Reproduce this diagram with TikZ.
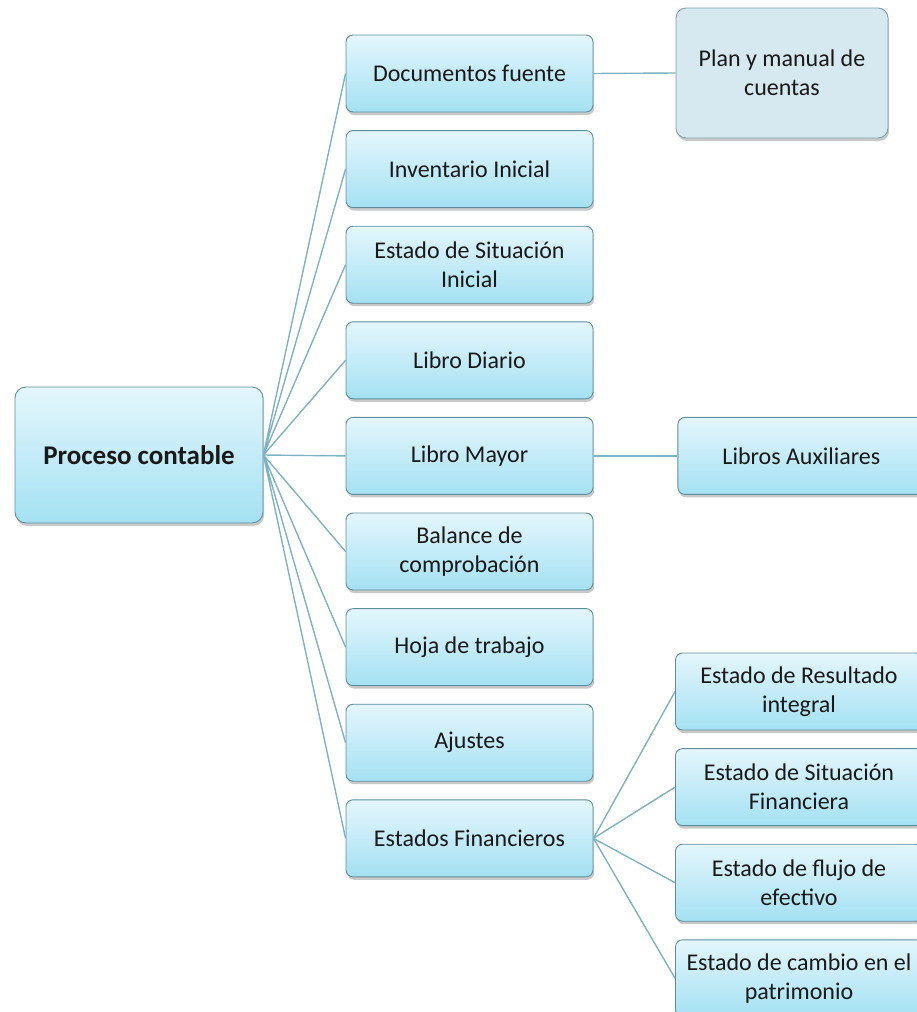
\documentclass[tikz,border=0pt]{standalone}
\usepackage{fontspec}
\setmainfont{Carlito}
\usetikzlibrary{positioning,shadows}
\definecolor{boxtop}{HTML}{E4F6FC}
\definecolor{boxbot}{HTML}{A4E1F3}
\definecolor{boxline}{HTML}{5F8E9D}
\definecolor{linkcol}{HTML}{7DB3C2}
\definecolor{planfill}{HTML}{D6E8F0}
\definecolor{planline}{HTML}{7C9FAD}
\begin{document}
\begin{tikzpicture}[x=1pt,y=-1pt,node distance=17.7pt,
				block/.style={draw=boxline,line width=0.9pt,rounded corners=7pt,top color=boxtop,bottom color=boxbot,
					minimum width=247pt,minimum height=77pt,align=center,inner sep=2pt,text=black!90,
					font=\fontsize{24}{29}\selectfont,
					drop shadow={shadow xshift=1.2pt,shadow yshift=-3pt,opacity=0.3,fill=black!70}},
				plan/.style={top color=planfill,bottom color=planfill,draw=planline,minimum width=212pt,minimum height=130pt,rounded corners=10pt},
				link/.style={draw=linkcol,line width=1.4pt}]
				\path[use as bounding box,clip] (0,0) rectangle (917,1012);
				\node[block,minimum width=248pt,minimum height=136pt,rounded corners=11pt,
					font=\bfseries\fontsize{27}{32}\selectfont] (PC) at (139,455) {Proceso contable};
				\node[block] (DF)  at (469.5,73.5)  {Documentos fuente};
				\node[block] (II)  [below=of DF]  {Inventario Inicial};
				\node[block] (ESI) [below=of II]  {Estado de Situación\\Inicial};
				\node[block] (LD)  [below=of ESI] {Libro Diario};
				\node[block] (LM)  [below=of LD]  {Libro Mayor};
				\node[block] (BC)  [below=of LM]  {Balance de\\comprobación};
				\node[block] (HT)  [below=of BC]  {Hoja de trabajo};
				\node[block] (AJ)  [below=of HT]  {Ajustes};
				\node[block] (EF)  [below=of AJ]  {Estados Financieros};
				\node[block,plan] (PM) at (782,73) {Plan y manual de\\cuentas};
				\node[block] (LA)  [right=84pt of LM] {Libros Auxiliares};
				\node[block] (ER)  at (799,691.5) {Estado de Resultado\\integral};
				\node[block] (ESF) [below=of ER]  {Estado de Situación\\Financiera};
				\node[block] (FE)  [below=of ESF] {Estado de flujo de\\efectivo};
				\node[block] (CP)  [below=of FE]  {Estado de cambio en el\\patrimonio};
				
				\draw[link] (PC.east) -- (DF.west)  (PC.east) -- (II.west)  (PC.east) -- (ESI.west)
					(PC.east) -- (LD.west)  (PC.east) -- (LM.west)  (PC.east) -- (BC.west)
					(PC.east) -- (HT.west)  (PC.east) -- (AJ.west)  (PC.east) -- (EF.west);
				\draw[link] (DF.east) -- (PM.west);
				\draw[link] (LM.east) -- (LA.west);
				\draw[link] (EF.east) -- (ER.west)  (EF.east) -- (ESF.west)
					(EF.east) -- (FE.west)  (EF.east) -- (CP.west);
			\end{tikzpicture}
\end{document}
